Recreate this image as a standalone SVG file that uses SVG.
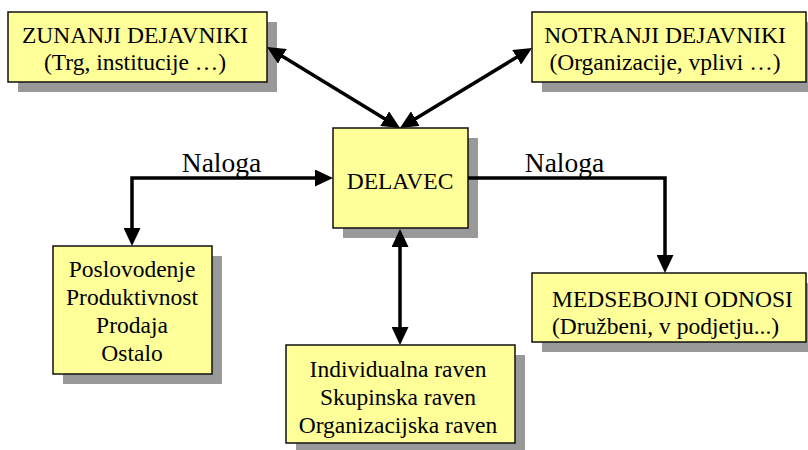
<svg xmlns="http://www.w3.org/2000/svg" width="808" height="450" viewBox="0 0 808 450">
  <style>
    .box { fill: #FFFF99; stroke: #111; stroke-width: 1.5; }
    .shadow { fill: #999999; }
    .t { font-family: "Liberation Serif", "Times New Roman", serif; font-size: 23.5px; fill: #000; text-anchor: middle; }
    .lbl { font-family: "Liberation Serif", "Times New Roman", serif; font-size: 27.5px; fill: #000; text-anchor: middle; }
    .link { fill: none; stroke: #000; stroke-width: 3.5; stroke-linejoin: miter; }
  </style>
  <defs>
    <marker id="ah" viewBox="0 0 18 17" refX="12" refY="8.5" markerWidth="18" markerHeight="17" markerUnits="userSpaceOnUse" orient="auto-start-reverse">
      <path d="M0,0 L18,8.5 L0,17 z" fill="#000"/>
    </marker>
  </defs>
  <rect width="808" height="450" fill="#fff"/>

  <g id="zunanji">
    <rect class="shadow" x="18" y="22" width="259" height="70"/>
    <rect class="box" x="8" y="12" width="259" height="70"/>
    <text class="t" x="135" y="43">ZUNANJI DEJAVNIKI</text>
    <text class="t" x="135" y="70">(Trg, institucije …)</text>
  </g>

  <g id="notranji">
    <rect class="shadow" x="542" y="22" width="274" height="70"/>
    <rect class="box" x="532" y="12" width="274" height="70"/>
    <text class="t" x="665" y="43">NOTRANJI DEJAVNIKI</text>
    <text class="t" x="665" y="70">(Organizacije, vplivi …)</text>
  </g>

  <g id="delavec">
    <rect class="shadow" x="343" y="138" width="135" height="100"/>
    <rect class="box" x="333" y="128" width="135" height="100"/>
    <text class="t" x="400" y="189">DELAVEC</text>
  </g>

  <g id="poslovodenje">
    <rect class="shadow" x="63" y="256" width="159" height="128"/>
    <rect class="box" x="53" y="246" width="159" height="128"/>
    <text class="t" x="132" y="277">Poslovodenje</text>
    <text class="t" x="132" y="305">Produktivnost</text>
    <text class="t" x="132" y="333">Prodaja</text>
    <text class="t" x="132" y="361">Ostalo</text>
  </g>

  <g id="ravni">
    <rect class="shadow" x="296" y="355" width="229" height="98"/>
    <rect class="box" x="286" y="345" width="229" height="98"/>
    <text class="t" x="398" y="377">Individualna raven</text>
    <text class="t" x="398" y="405">Skupinska raven</text>
    <text class="t" x="398" y="433">Organizacijska raven</text>
  </g>

  <g id="medsebojni">
    <rect class="shadow" x="542" y="283" width="274" height="69"/>
    <rect class="box" x="532" y="273" width="274" height="69"/>
    <text class="t" x="552" y="307" style="text-anchor:start">MEDSEBOJNI ODNOSI</text>
    <text class="t" x="552" y="334" style="text-anchor:start">(Družbeni, v podjetju...)</text>
  </g>

  <g id="connectors">
    <path class="link" d="M272.1,50.1 L394.9,124.9" marker-start="url(#ah)" marker-end="url(#ah)"/>
    <path class="link" d="M526.9,51.1 L405.1,124.9" marker-start="url(#ah)" marker-end="url(#ah)"/>
    <path class="link" d="M327,178 L132,178 L132,240" marker-start="url(#ah)" marker-end="url(#ah)"/>
    <path class="link" d="M468,178 L665,178 L665,267" marker-end="url(#ah)"/>
    <path class="link" d="M400,235 L400,339" marker-start="url(#ah)" marker-end="url(#ah)"/>
    <text class="lbl" x="221.5" y="172">Naloga</text>
    <text class="lbl" x="564.5" y="172">Naloga</text>
  </g>
</svg>
